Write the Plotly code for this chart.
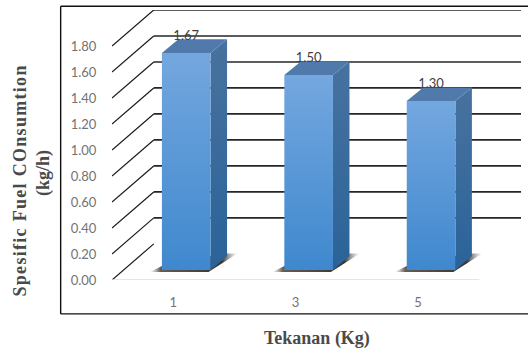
import plotly.graph_objects as go

# Chart data
pressure_labels = ["1", "3", "5"]
pressure_positions = [1, 3, 5]
fuel_consumption = [1.67, 1.50, 1.30]
value_labels = ["1.67", "1.50", "1.30"]
grid_values = [0.2, 0.4, 0.6, 0.8, 1.0, 1.2, 1.4, 1.6, 1.8]
tick_values = [0.0, 0.2, 0.4, 0.6, 0.8, 1.0, 1.2, 1.4, 1.6, 1.8]

# Canvas and the front plane of the chart, in pixels
W, H = 528, 352
LEFT, RIGHT, TOP, BOTTOM = 112, 479, 45.7, 280.3
PX_X = (RIGHT - LEFT) / 6.0
PX_Y = (BOTTOM - TOP) / 1.8


def dx(px):
    return px / PX_X


def dy(px):
    return px / PX_Y


# Oblique projection of the chart's depth
WALL_PX_X, WALL_PX_Y = 41.7, 36.2
WALL_X, WALL_Y = dx(WALL_PX_X), dy(WALL_PX_Y)
BAR_SHIFT_X, BAR_SHIFT_Y = dx(13), dy(10)  # floor position of a bar's front face
BAR_HALF = dx(24.3)                        # half width of a bar
BAR_DEPTH_X, BAR_DEPTH_Y = dx(16.5), dy(13.7)

FRONT_TOP, FRONT_BOTTOM = "#74a7df", "#3f88ce"
SIDE_TOP, SIDE_BOTTOM = "#48729f", "#2a6399"
TOP_FACE = "#4f7aab"
GRID = "#262626"


def poly(xs, ys, **kw):
    return go.Scatter(
        x=xs + xs[:1], y=ys + ys[:1], mode="lines", fill="toself",
        line=dict(width=0), hoverinfo="skip", showlegend=False, **kw,
    )


def grad(bottom, top):
    return dict(type="vertical", colorscale=[[0, bottom], [1, top]])


fig = go.Figure()

# Back wall grid lines and the diagonal side-wall lines
for v in grid_values:
    fig.add_trace(go.Scatter(
        x=[WALL_X, 6 + WALL_X], y=[v + WALL_Y, v + WALL_Y], mode="lines",
        line=dict(color=GRID, width=1.7), hoverinfo="skip", showlegend=False,
    ))
for v in tick_values:
    fig.add_trace(go.Scatter(
        x=[0, WALL_X], y=[v, v + WALL_Y], mode="lines",
        line=dict(color="#1a1a1a", width=1.2), hoverinfo="skip", showlegend=False,
    ))

# Floor's front edge
fig.add_trace(go.Scatter(
    x=[0, 6], y=[0, 0], mode="lines", line=dict(color="#dcdcdc", width=1.5),
    hoverinfo="skip", showlegend=False, cliponaxis=False,
))

# Bars: shadow, then side, top and front faces
for pos, val in zip(pressure_positions, fuel_consumption):
    x0 = pos + BAR_SHIFT_X - BAR_HALF
    x1 = pos + BAR_SHIFT_X + BAR_HALF
    y0 = BAR_SHIFT_Y
    y1 = val + BAR_SHIFT_Y
    fig.add_trace(poly(
        [x0 - dx(12), x1 - dx(2), x1 + dx(27), x1 + dx(14), x0],
        [y0 - dy(2), y0 - dy(2), y0 + BAR_DEPTH_Y + dy(3), y0 + BAR_DEPTH_Y + dy(3), y0 + dy(4)],
        fillgradient=dict(type="horizontal", colorscale=[
            [0, "rgba(130,120,110,0)"], [0.12, "rgba(85,75,65,0.9)"],
            [0.82, "rgba(45,40,35,0.95)"], [1, "rgba(130,120,110,0)"]]),
    ))
    fig.add_trace(poly(
        [x1, x1 + BAR_DEPTH_X, x1 + BAR_DEPTH_X, x1],
        [y0, y0 + BAR_DEPTH_Y, y1 + BAR_DEPTH_Y, y1],
        fillgradient=grad(SIDE_BOTTOM, SIDE_TOP),
    ))
    fig.add_trace(poly(
        [x0, x1, x1 + BAR_DEPTH_X, x0 + BAR_DEPTH_X],
        [y1, y1, y1 + BAR_DEPTH_Y, y1 + BAR_DEPTH_Y],
        fillcolor=TOP_FACE,
    ))
    fig.add_trace(poly(
        [x0, x1, x1, x0],
        [y0, y0, y1, y1],
        fillgradient=grad(FRONT_BOTTOM, FRONT_TOP),
    ))

# Value labels above each bar
fig.add_trace(go.Scatter(
    x=[p + BAR_SHIFT_X for p in pressure_positions],
    y=[v + BAR_SHIFT_Y + dy(16) for v in fuel_consumption],
    mode="text", text=value_labels, textposition="middle center",
    textfont=dict(family="Lato, sans-serif", size=13, color="#404040"),
    hoverinfo="skip", showlegend=False,
))

# Axes stretch back to the wall; ticks stay on the front plane
fig.update_xaxes(
    range=[0, 6 + WALL_X], tickmode="array", tickvals=pressure_positions,
    ticktext=pressure_labels, showgrid=False, zeroline=False, showline=False,
    ticks="outside", ticklen=10, tickcolor="rgba(0,0,0,0)",
    tickfont=dict(family="Lato, sans-serif", size=13, color="#737373"),
)
fig.update_yaxes(
    range=[0, 1.8 + WALL_Y], tickmode="array", tickvals=tick_values,
    tickformat=".2f", showgrid=False, zeroline=False, showline=False,
    ticks="outside", ticklen=12, tickcolor="rgba(0,0,0,0)",
    tickfont=dict(family="Lato, sans-serif", size=13, color="#737373"),
)

PLOT_RIGHT = RIGHT + WALL_PX_X
PLOT_TOP = TOP - WALL_PX_Y


def frac_x(px):
    return (px - LEFT) / (PLOT_RIGHT - LEFT)


def frac_y(px):
    return (BOTTOM - px) / (BOTTOM - PLOT_TOP)


# Outer frame is open on its right side
FRAME_L, FRAME_T, FRAME_B = 60.7, 5.7, 314.3
frame_line = dict(color="#111111", width=1.4)
fig.update_layout(
    width=W, height=H, autosize=False,
    margin=dict(l=LEFT, r=W - PLOT_RIGHT, t=PLOT_TOP, b=H - BOTTOM, pad=0),
    paper_bgcolor="white", plot_bgcolor="rgba(0,0,0,0)", showlegend=False,
    shapes=[
        dict(type="line", xref="paper", yref="paper", layer="below",
             x0=frac_x(FRAME_L), x1=frac_x(W), y0=frac_y(FRAME_T), y1=frac_y(FRAME_T),
             line=frame_line),
        dict(type="line", xref="paper", yref="paper", layer="below",
             x0=frac_x(FRAME_L), x1=frac_x(W), y0=frac_y(FRAME_B), y1=frac_y(FRAME_B),
             line=frame_line),
        dict(type="line", xref="paper", yref="paper", layer="below",
             x0=frac_x(FRAME_L), x1=frac_x(FRAME_L), y0=frac_y(FRAME_T), y1=frac_y(FRAME_B),
             line=frame_line),
    ],
    annotations=[
        dict(text="<b>Tekanan (Kg)</b>", xref="paper", yref="paper", showarrow=False,
             x=frac_x(317), y=frac_y(339), xanchor="center", yanchor="middle",
             font=dict(family="Liberation Serif, serif", size=18, color="#4a4a4a")),
        dict(text="<b>Spesific Fuel COnsumtion</b>", xref="paper", yref="paper",
             showarrow=False, textangle=-90,
             x=frac_x(20), y=frac_y(180), xanchor="center", yanchor="middle",
             font=dict(family="Liberation Serif, serif", size=18, color="#4a4a4a")),
        dict(text="<b>(kg/h)</b>", xref="paper", yref="paper",
             showarrow=False, textangle=-90,
             x=frac_x(43), y=frac_y(173), xanchor="center", yanchor="middle",
             font=dict(family="Liberation Serif, serif", size=18, color="#4a4a4a")),
    ],
)

# The long vertical title is tracked out a little
TRACK_TITLE = """
document.querySelectorAll('.annotation-text').forEach(function (t) {
  if (t.textContent.indexOf('Spesific') === 0) { t.style.letterSpacing = '1.3px'; }
});
"""

fig.write_html("out.html", post_script=TRACK_TITLE)
